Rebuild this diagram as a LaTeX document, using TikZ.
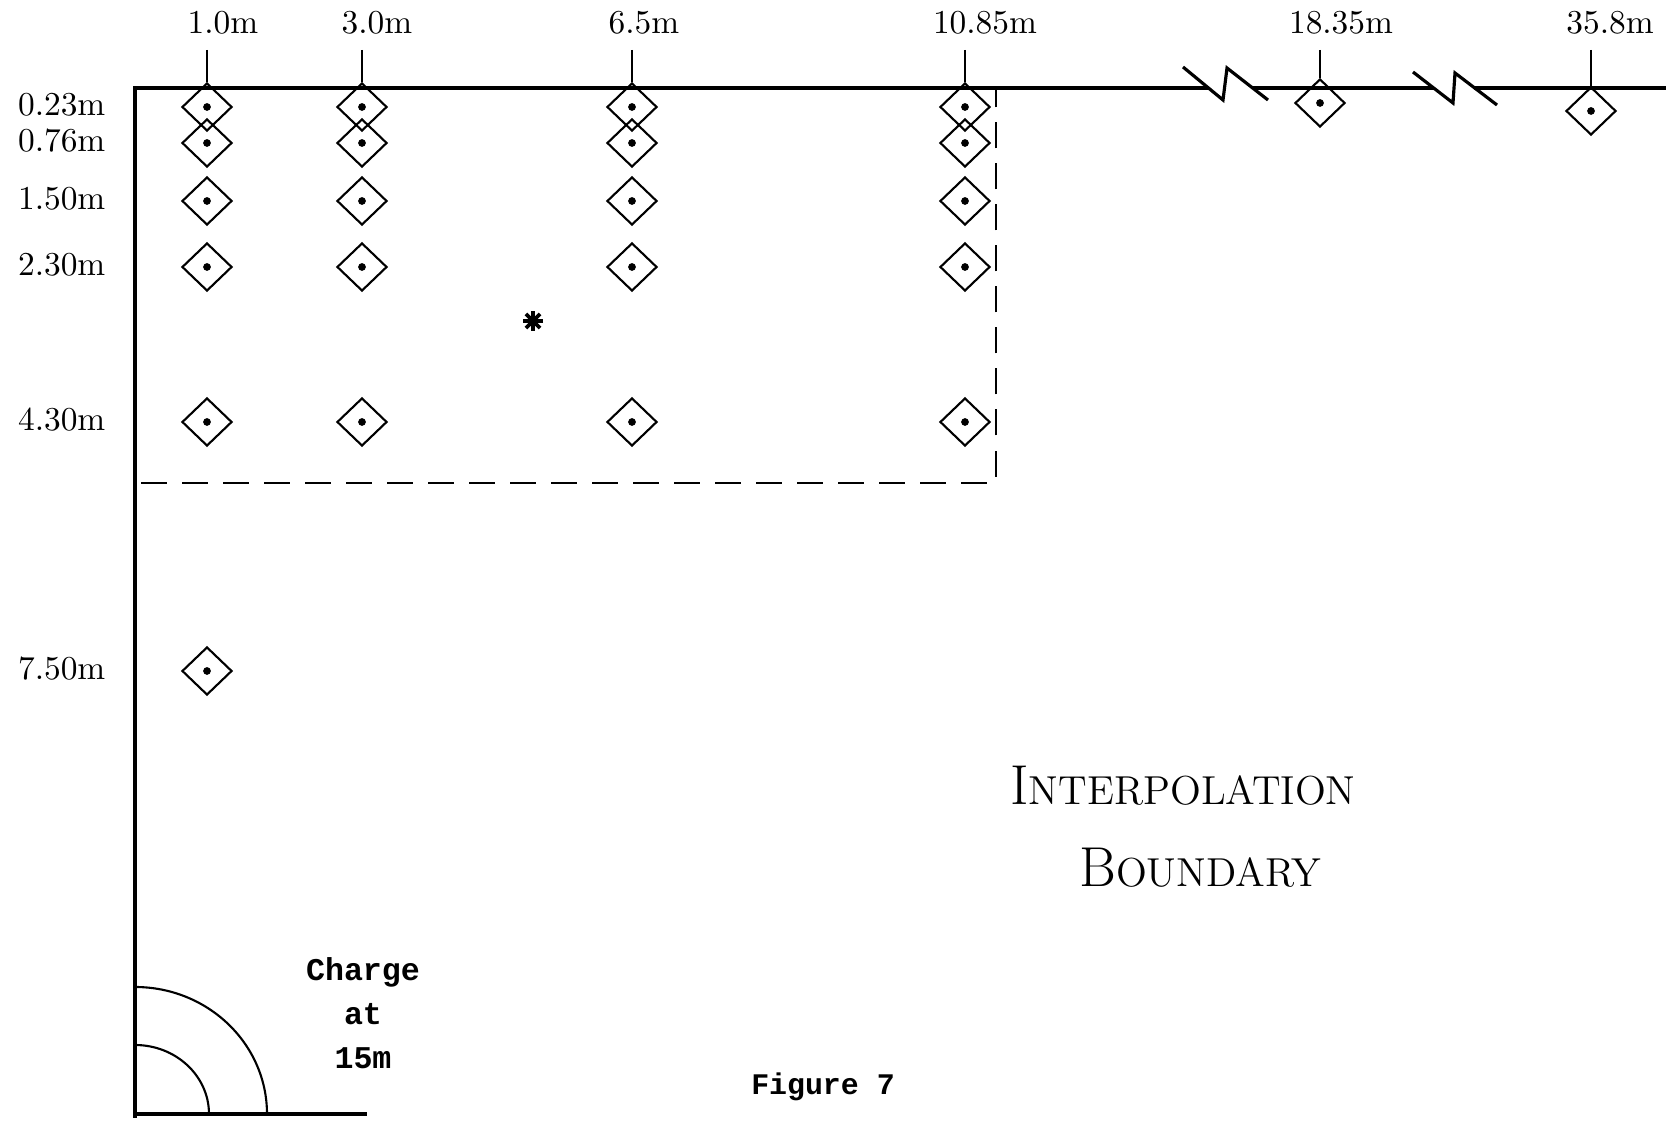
\documentclass[tikz,border=0pt]{standalone}
\usepackage{fontspec}
\usepackage{tikz}
\usetikzlibrary{shapes.geometric}

\newfontfamily\typefont{Liberation Mono}
\newcommand{\capsword}[2]{{\fontsize{16}{18}\selectfont #1}{\fontsize{11.5}{14}\selectfont #2}}

\tikzset{
  gauge/.style={diamond, draw, line width=0.6pt, minimum width=0.5cm, minimum height=0.48cm, inner sep=0pt,
    path picture={\fill (path picture bounding box.center) circle (1.1pt);}},
  depthlabel/.style={anchor=east, inner sep=0pt, font=\fontsize{9.5}{11}\selectfont},
  rangelabel/.style={anchor=base, inner sep=0pt, font=\fontsize{9.5}{11}\selectfont},
  boundary/.style={line width=0.8pt, dash pattern=on 0.26cm off 0.15cm},
  ground/.style={line width=0.9pt},
}

\begin{document}
\begin{tikzpicture}[x=0.01cm,y=-0.01cm]
        \useasboundingbox (0,0) rectangle (1666,1122);

        % Surface, axis and breaks
        \draw[ground] (1666,88) -- (1474,88);
        \draw[ground] (1434,88) -- (1253,88);
        \draw[ground] (1208,88) -- (135,88) -- (135,1118);
        \draw[ground] (135,1114) -- (367,1114);
        \draw[ground] (1183,67) -- (1223,100) -- (1227,68) -- (1268,100);
        \draw[ground] (1413,72) -- (1453,103) -- (1455,73) -- (1497,105);

        % Charge
        \draw[line width=0.6pt] (209,1114) arc[start angle=0, end angle=-90, x radius=74, y radius=69];
        \draw[line width=0.6pt] (267,1114) arc[start angle=0, end angle=-90, x radius=132, y radius=127];
        \node[font=\typefont\bfseries\fontsize{9}{12.5}\selectfont, align=center, anchor=north, inner sep=0pt] (charge) at (363,957) {Charge\\at\\15m};

        % Gauges
        \foreach \c/\x in {1/207,2/362,3/632,4/965}
          \foreach \r/\y in {1/107,2/143,3/201,4/267,5/422}
            \node[gauge] (g\c-\r) at (\x,\y) {};
        \node[gauge] (g1-6) at (207,671) {};
        \node[gauge] (g5-1) at (1320,103) {};
        \node[gauge] (g6-1) at (1591,111) {};

        % Ranges
        \foreach \c/\x/\lx/\t in {1/207/223/1.0m,2/362/377/3.0m,3/632/644/6.5m,4/965/985/10.85m,5/1320/1341/18.35m,6/1591/1610/35.8m}{
          \node[rangelabel] (r\c) at (\lx,34) {\t};
          \coordinate (t\c) at (\x,50);
          \draw[line width=0.6pt] (t\c) -- (g\c-1.north);
        }

        % Depths
        \foreach \r/\y/\t in {1/105/0.23m,2/141/0.76m,3/199/1.50m,4/265/2.30m,5/420/4.30m,6/669/7.50m}
          \node[depthlabel] (d\r) at (106,\y) {\t};

        % Interpolation boundary
        \draw[boundary] (141,483) -- (996,483) -- (996,90);
        \coordinate (star) at (533,321);
        \foreach \a in {0,45,90,135}
          \draw[line width=1.1pt] (star) ++(\a:10) -- ++(\a+180:20);
        \node[anchor=base, inner sep=0pt] (interp) at (1183,805) {\capsword{I}{NTERPOLATION}};
        \node[anchor=base, inner sep=0pt] (bound) at (1200,887) {\capsword{B}{OUNDARY}};

        \node[font=\typefont\bfseries\fontsize{8.5}{10}\selectfont, anchor=base, inner sep=0pt] (fig) at (823,1094) {Figure 7};
\end{tikzpicture}
\end{document}
